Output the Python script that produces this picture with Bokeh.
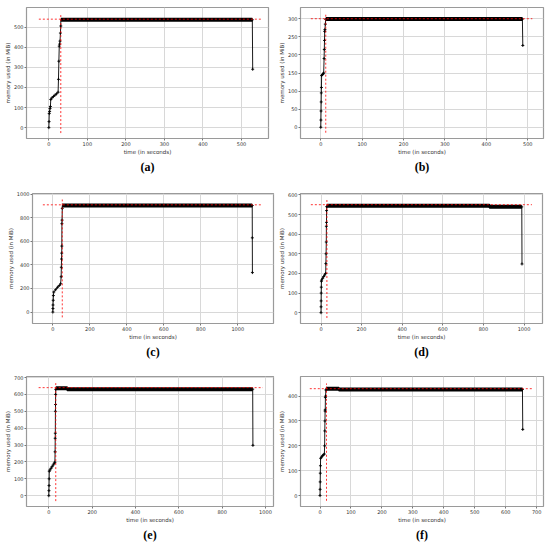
from bokeh.plotting import figure
from bokeh.layouts import column, row
from bokeh.models import Title, FixedTicker, Range1d
from bokeh.embed import file_html
from bokeh.resources import INLINE

# ---------------- data ----------------
# (a)
a_ramp_t = [0, 0.5, 1, 2, 3, 4, 5, 8, 12, 16, 20, 24, 25, 26, 27, 28, 29, 30, 31]
a_ramp_m = [0, 30, 70, 80, 95, 105, 140, 148, 155, 162, 168, 176, 240, 330, 405, 415, 430, 470, 505]
a_plat_t = [31, 528]
a_plat_m = [536, 536]
a_tail_t = [528, 529]
a_tail_m = [536, 290]
a_peak_t, a_peak_m = 31, 539
a_h_ext = [-26, 555]
a_v_ext = [-27, 566]
a_xticks = [0, 100, 200, 300, 400, 500]
a_yticks = [0, 100, 200, 300, 400, 500]

# (b)
b_ramp_t = [0, 0.3, 0.6, 1, 1.3, 1.6, 2, 4, 6, 7, 8, 8.5, 9, 9.5, 10, 11, 12]
b_ramp_m = [0, 20, 45, 70, 95, 110, 143, 146, 148, 150, 190, 215, 240, 265, 270, 285, 298]
b_plat_t = [12, 487]
b_plat_m = [299, 299]
b_tail_t = [487, 488]
b_tail_m = [299, 226]
b_peak_t, b_peak_m = 12, 300
b_h_ext = [-24, 511]
b_v_ext = [-15, 315]
b_xticks = [0, 100, 200, 300, 400, 500]
b_yticks = [0, 50, 100, 150, 200, 250, 300]

# (c)
c_ramp_t = [0, 0.5, 1, 2, 3, 5, 15, 25, 35, 42, 45, 46, 47, 48, 48.5, 49, 50, 51]
c_ramp_m = [0, 30, 60, 100, 140, 170, 190, 210, 225, 240, 300, 380, 450, 500, 560, 750, 780, 880]
c_plat_t = [51, 1078]
c_plat_m = [904, 904]
c_tail_t = [1078, 1078.5, 1079]
c_tail_m = [904, 630, 335]
c_peak_t, c_peak_m = 51, 910
c_h_ext = [-54, 1132]
c_v_ext = [-45, 955]
c_xticks = [0, 200, 400, 600, 800, 1000]
c_yticks = [0, 200, 400, 600, 800, 1000]

# (d)
d_ramp_t = [0, 0.3, 0.6, 1, 1.5, 2, 3, 8, 13, 18, 23, 24, 25, 26, 26.5, 27, 27.5, 28]
d_ramp_m = [0, 30, 60, 100, 130, 160, 166, 175, 184, 192, 200, 250, 300, 360, 440, 460, 520, 540]
d_plat_t = [28, 830, 830, 989]
d_plat_m = [545, 545, 539, 539]
d_tail_t = [989, 990]
d_tail_m = [539, 248]
d_peak_t, d_peak_m = 29, 550
d_h_ext = [-50, 1039]
d_v_ext = [-27, 577]
d_xticks = [0, 200, 400, 600, 800, 1000]
d_yticks = [0, 100, 200, 300, 400, 500, 600]

# (e)
e_ramp_t = [0, 0.5, 1, 1.5, 2, 5, 10, 15, 20, 25, 28, 29, 29.5, 30, 30.5, 31, 31.5, 32]
e_ramp_m = [0, 30, 60, 100, 145, 152, 162, 172, 182, 192, 198, 260, 340, 370, 500, 540, 600, 630]
e_plat_t = [32, 85, 85, 941]
e_plat_m = [636, 636, 631, 631]
e_tail_t = [941, 942]
e_tail_m = [631, 298]
e_peak_t, e_peak_m = 32, 640
e_h_ext = [-47, 988]
e_v_ext = [-32, 672]
e_xticks = [0, 200, 400, 600, 800, 1000]
e_yticks = [0, 100, 200, 300, 400, 500, 600, 700]

# (f)
f_ramp_t = [0, 0.3, 0.6, 1, 1.5, 2, 5, 8, 11, 14, 15, 15.5, 16, 16.5, 17, 17.5, 18, 19]
f_ramp_m = [0, 25, 55, 90, 120, 150, 155, 160, 164, 167, 200, 260, 300, 340, 345, 395, 400, 425]
f_plat_t = [19, 61, 61, 654]
f_plat_m = [430, 430, 427, 427]
f_tail_t = [654, 655]
f_tail_m = [427, 266]
f_peak_t, f_peak_m = 21, 430
f_h_ext = [-33, 687]
f_v_ext = [-21, 451]
f_xticks = [0, 100, 200, 300, 400, 500, 600, 700]
f_yticks = [0, 100, 200, 300, 400]

captions = ["(a)", "(b)", "(c)", "(d)", "(e)", "(f)"]
x_label = "time (in seconds)"
y_label = "memory used (in MiB)"


def panel(cap, rt, rm, pt, pm, tt, tm, peak_t, peak_m, h_ext, v_ext, xt, yt,
          xr, yr, height, borders):
    bl, br, bt, bb = borders
    p = figure(width=275, height=height, output_backend="svg", toolbar_location=None,
               x_range=Range1d(*xr), y_range=Range1d(*yr),
               min_border_left=bl, min_border_right=br,
               min_border_top=bt, min_border_bottom=bb)
    p.background_fill_color = "white"
    p.border_fill_color = "white"
    p.outline_line_color = "#9a9a9a"
    p.outline_line_width = 1.2
    for ax in (p.xaxis[0], p.yaxis[0]):
        ax.axis_line_color = None
        ax.major_tick_line_color = "#777777"
        ax.major_tick_out = 2
        ax.major_tick_in = 0
        ax.minor_tick_line_color = None
        ax.major_label_text_font = "DejaVu Sans"
        ax.major_label_text_font_size = "5px"
        ax.major_label_text_color = "#333333"
        ax.major_label_standoff = 1
        ax.axis_label_text_font = "DejaVu Sans"
        ax.axis_label_text_font_size = "5.5px"
        ax.axis_label_text_font_style = "normal"
        ax.axis_label_text_color = "#333333"
        ax.axis_label_standoff = 0
    p.xaxis[0].ticker = FixedTicker(ticks=xt)
    p.yaxis[0].ticker = FixedTicker(ticks=yt)
    p.xaxis[0].axis_label = x_label
    p.yaxis[0].axis_label = y_label
    p.grid.grid_line_color = "#d8d8d8"
    p.grid.grid_line_width = 1
    p.xgrid.ticker = FixedTicker(ticks=xt)
    p.ygrid.ticker = FixedTicker(ticks=yt)

    all_t = rt + pt + tt
    all_m = rm + pm + tm
    p.line(all_t, all_m, line_color="black", line_width=0.9)
    p.line(pt, pm, line_color="black", line_width=4)
    p.scatter(rt + tt, rm + tm, marker="cross", size=3, line_color="black",
              line_width=0.9)
    p.line(h_ext, [peak_m, peak_m], line_color="red", line_dash="2 2",
           line_width=1, line_alpha=0.8)
    p.line([peak_t, peak_t], v_ext, line_color="red", line_dash="2 2",
           line_width=1, line_alpha=0.8)

    t = Title(text=cap, align="center", text_font="Liberation Serif",
              text_font_style="bold", text_font_size="12px", text_color="black",
              standoff=0)
    p.add_layout(t, "below")
    return p


pa = panel(captions[0], a_ramp_t, a_ramp_m, a_plat_t, a_plat_m, a_tail_t, a_tail_m,
           a_peak_t, a_peak_m, a_h_ext, a_v_ext, a_xticks, a_yticks,
           (-58, 570), (-54, 597), 180, (26, 7, 6, 42))
pb = panel(captions[1], b_ramp_t, b_ramp_m, b_plat_t, b_plat_m, b_tail_t, b_tail_m,
           b_peak_t, b_peak_m, b_h_ext, b_v_ext, b_xticks, b_yticks,
           (-49, 538), (-31, 331), 180, (22, 7, 7, 41))
pc = panel(captions[2], c_ramp_t, c_ramp_m, c_plat_t, c_plat_m, c_tail_t, c_tail_m,
           c_peak_t, c_peak_m, c_h_ext, c_v_ext, c_xticks, c_yticks,
           (-110, 1193), (-97, 1006), 180, (32, 2, 13, 37))
pd_ = panel(captions[3], d_ramp_t, d_ramp_m, d_plat_t, d_plat_m, d_tail_t, d_tail_m,
            d_peak_t, d_peak_m, d_h_ext, d_v_ext, d_xticks, d_yticks,
            (-101, 1091), (-55, 607), 180, (22, 8, 11, 37))
pe = panel(captions[4], e_ramp_t, e_ramp_m, e_plat_t, e_plat_m, e_tail_t, e_tail_m,
           e_peak_t, e_peak_m, e_h_ext, e_v_ext, e_xticks, e_yticks,
           (-103, 1037), (-64, 706), 184, (26, 2, 14, 38))
pf = panel(captions[5], f_ramp_t, f_ramp_m, f_plat_t, f_plat_m, f_tail_t, f_tail_m,
           f_peak_t, f_peak_m, f_h_ext, f_v_ext, f_xticks, f_yticks,
           (-63, 722), (-44, 479), 184, (23, 7, 16, 36))

layout = column(row(pa, pb, spacing=0), row(pc, pd_, spacing=0),
                row(pe, pf, spacing=0), spacing=0)

open("out.html", "w").write(file_html(layout, INLINE))
